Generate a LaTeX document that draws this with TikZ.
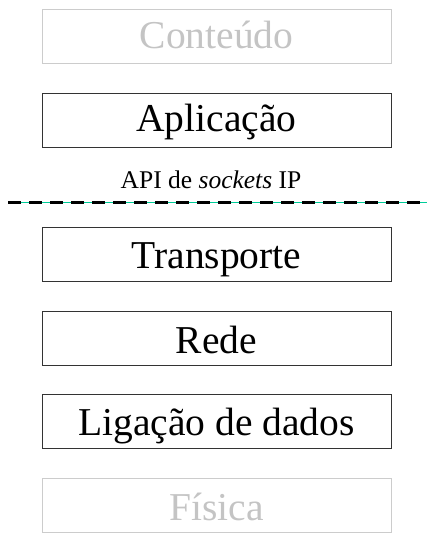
\documentclass[tikz,border=0pt]{standalone}
\usepackage{fontspec}
\setmainfont{Liberation Serif}
\definecolor{boxline}{HTML}{333333}
\definecolor{fadeline}{HTML}{CCCCCC}
\definecolor{fadetext}{HTML}{C4C4C4}
\definecolor{tealline}{HTML}{00CC99}
\begin{document}
\begin{tikzpicture}[x=1pt,y=-1pt,
  layer/.style={draw=boxline, line width=1pt, rectangle, inner sep=0pt,
    minimum width=349pt, minimum height=54pt, text depth=0pt, text height=28pt,
    font=\fontsize{39.5}{42}\selectfont},
  faded/.style={layer, draw=fadeline, text=fadetext},
  apilabel/.style={anchor=base, inner sep=0pt, font=\fontsize{25.5}{28}\selectfont}]
\useasboundingbox (0,0) rectangle (435,542);
\node[faded, text height=24pt] (cont) at (216.5,36.5) {Conteúdo};
\node[layer, text height=21pt] (apl) at (216.5,120.8) {Aplicação};
\node[apilabel] (api) at (211,188) {API de \textit{sockets} IP};
\coordinate (dl) at (8,202.5);
\coordinate (dr) at (427,202.5);
\draw[tealline, line width=1pt] (dl) -- (dr);
\draw[black, line width=3pt, dash pattern=on 13pt off 8pt] (dl) -- (dr);
\node[layer] (tra) at (216.5,254.8) {Transporte};
\node[layer, text height=30pt] (red) at (216.5,338.2) {Rede};
\node[layer] (lig) at (216.5,421.7) {Ligação de dados};
\node[faded, text height=30pt] (fis) at (216.5,505) {Física};
\end{tikzpicture}
\end{document}
